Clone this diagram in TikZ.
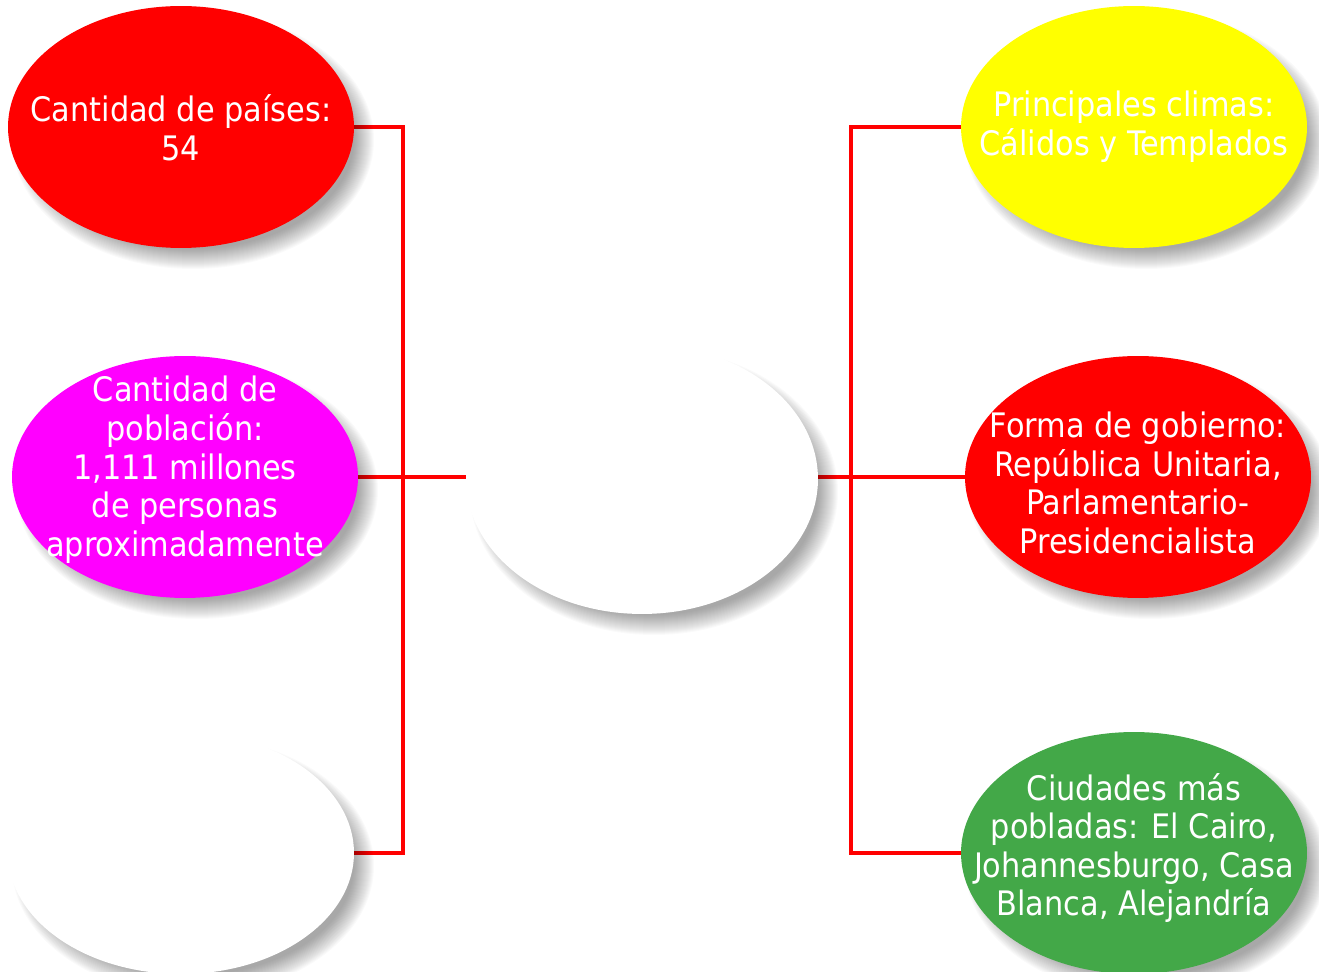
\documentclass[tikz,border=0pt]{standalone}
\usepackage{fontspec}
\setmainfont{DejaVu Sans Condensed}
\usetikzlibrary{shapes,positioning}
\pgfdeclarelayer{fondo}
\pgfdeclarelayer{sombras}
\pgfsetlayers{fondo,sombras,main}

\definecolor{rojo}{RGB}{255,0,0}
\definecolor{rosa}{RGB}{255,0,255}
\definecolor{amarillo}{RGB}{255,255,0}
\definecolor{verde}{RGB}{67,168,72}

\tikzset{
  burbuja/.style={ellipse, inner sep=0pt, outer sep=0pt,
    minimum width=6.92cm, minimum height=4.84cm},
  texto/.style={text=white, align=center, font=\fontsize{19.2}{22}\selectfont},
  enlace/.style={draw=rojo, line width=2.3pt},
}
% soft shadow below a bubble: node, x radius, y radius
\newcommand{\sombra}[3]{%
  \foreach \k in {-12,...,8}{
    \fill[black, opacity=0.018, shift={(#1)}] (12,13) ellipse [x radius=#2+\k, y radius=#3+\k];
  }}

\begin{document}
\begin{tikzpicture}[x=0.02cm, y=-0.02cm]
  \useasboundingbox (0,0) rectangle (1319,972);

  % left column
  \node[burbuja, fill=rojo] (paises) at (181,127) {};
  \node[burbuja, fill=rosa] (poblacion) at (185,477) {};
  \node[burbuja, fill=white] (vacio) at (181,853) {};
  % centre
  \node[burbuja, fill=white, minimum width=7.04cm, minimum height=5.4cm] (africa) at (642,479) {};
  % right column
  \node[burbuja, fill=amarillo] (clima) at (1134,127) {};
  \node[burbuja, fill=rojo] (gobierno) at (1138,477) {};
  \node[burbuja, fill=verde] (ciudades) at (1134,853) {};

  \node[texto] (paisestxt) at (181,128) {Cantidad de países:\\54};
  \node[texto] (poblaciontxt) at (185,470) {Cantidad de\\población:\\1,111 millones\\de personas\\aproximadamente};
  \node[texto] (climatxt) at (1134,127) {Principales climas:\\Cálidos y Templados};
  \node[texto] (gobiernotxt) at (1138,483) {Forma de gobierno:\\República Unitaria,\\Parlamentario-\\Presidencialista};
  \node[texto] (ciudadestxt) at (1134,848) {Ciudades más\\pobladas: El Cairo,\\Johannesburgo, Casa\\Blanca, Alejandría};

  \coordinate (izq) at (403,477);
  \coordinate (der) at (851,477);

  \begin{pgfonlayer}{fondo}
    \draw[enlace] (paises.east) -| (izq) |- (vacio.east);
    \draw[enlace] (poblacion.east) -- (poblacion.east -| africa.west);
    \draw[enlace] (clima.west) -| (der) |- (ciudades.west);
    \draw[enlace] (africa.east |- gobierno.west) -- (gobierno.west);
  \end{pgfonlayer}

  \begin{pgfonlayer}{sombras}
    \foreach \n in {paises,poblacion,vacio,clima,gobierno,ciudades}{\sombra{\n}{173}{121}}
    \sombra{africa}{176}{135}
  \end{pgfonlayer}
\end{tikzpicture}
\end{document}
